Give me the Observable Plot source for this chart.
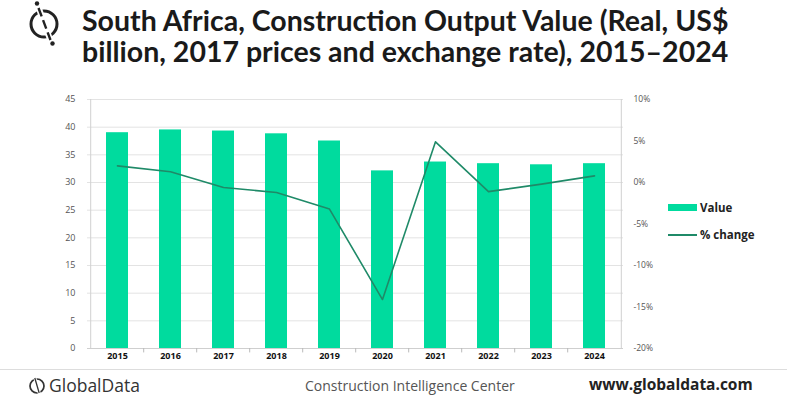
<!DOCTYPE html>
<html><head><meta charset="utf-8">
<script src="https://cdn.jsdelivr.net/npm/d3@7"></script>
<script src="https://cdn.jsdelivr.net/npm/@observablehq/plot@0.6"></script>
<style>
body{margin:0;background:#fff;width:787px;height:399px;overflow:hidden;position:relative;font-family:"Open Sans",Lato,sans-serif;}
#title{position:absolute;left:82px;top:5px;font-family:Lato,"Open Sans",sans-serif;font-weight:700;font-size:28.5px;line-height:31px;color:#1a1a1a;white-space:nowrap;}
#icon{position:absolute;left:26px;top:0px;}
#chart{position:absolute;left:0;top:80px;}
#legend{position:absolute;left:668px;top:194px;font-family:"Open Sans",sans-serif;font-weight:700;font-size:11.5px;color:#222;}
#legend div{display:flex;align-items:center;height:27px;}
#legend span.sw{display:inline-block;width:29px;margin-right:3px;}
#footer{position:absolute;left:0;top:369px;width:787px;border-top:1px solid #ddd;}
.f{position:absolute;white-space:nowrap;line-height:1;}
</style></head>
<body>
<svg id="icon" width="36" height="48" viewBox="0 0 36 48">
 <circle cx="18" cy="24" r="13" fill="none" stroke="#222" stroke-width="3"/>
 <line x1="12" y1="6" x2="25" y2="42" stroke="#fff" stroke-width="6"/>
 <line x1="12.5" y1="8" x2="24.5" y2="40" stroke="#222" stroke-width="2.4" stroke-dasharray="9 4"/>
 <circle cx="11" cy="3.5" r="2.2" fill="#222"/>
 <circle cx="26.5" cy="43.5" r="2.2" fill="#222"/>
</svg>
<div id="title">South Africa, Construction Output Value (Real, US$<br>billion, 2017 prices and exchange rate), 2015–2024</div>
<div id="chart"></div>
<div id="legend">
 <div><span class="sw" style="height:7px;background:#00db9e"></span>Value</div>
 <div><span class="sw" style="height:2px;background:#1f8a68"></span>% change</div>
</div>
<div id="footer"></div>
<div class="f" style="left:27px;top:375px;font-family:'Open Sans',sans-serif;font-size:17.5px;color:#333;">
 <svg width="22" height="20" viewBox="0 0 22 20" style="vertical-align:-3px"><circle cx="10" cy="11" r="7" fill="none" stroke="#333" stroke-width="1.7"/><line x1="7.5" y1="2" x2="12.5" y2="19" stroke="#fff" stroke-width="3"/><line x1="7.8" y1="3" x2="12.2" y2="18" stroke="#333" stroke-width="1.3"/></svg>GlobalData</div>
<div class="f" style="left:305px;top:379px;font-family:'Open Sans',sans-serif;font-size:14px;color:#555;">Construction Intelligence Center</div>
<div class="f" style="left:589px;top:377px;font-family:'Open Sans',sans-serif;font-weight:700;font-size:15.5px;color:#222;">www.globaldata.com</div>
<script>
const years = ["2015","2016","2017","2018","2019","2020","2021","2022","2023","2024"];
const values = [39.0, 39.5, 39.3, 38.8, 37.5, 32.1, 33.7, 33.4, 33.2, 33.4];
const pctChange = [2.0, 1.3, -0.6, -1.2, -3.2, -14.1, 4.9, -1.1, -0.2, 0.8];
const leftTicks = [0,5,10,15,20,25,30,35,40,45];
const rightTicks = [-20,-15,-10,-5,0,5,10];

// map % (-20..10) onto the left scale (0..45)
const toY = p => (p + 20) * 1.5;
const fromY = v => Math.round(v / 1.5 - 20);

const data = years.map((y,i)=>({year:y, value:values[i], pct:pctChange[i]}));
const W = 787, H = 285, mL = 87, mR = 164;
const bw = (W - mL - mR) / years.length;

const chart = Plot.plot({
  width: W, height: H,
  marginLeft: mL, marginRight: mR, marginTop: 19, marginBottom: 17,
  style: {fontFamily: "'Open Sans', sans-serif", background: "#fff", overflow: "visible"},
  x: {domain: years, padding: 0.59, paddingOuter: 0.295},
  y: {domain: [0, 45]},
  marks: [
    Plot.ruleY(leftTicks, {stroke: "#e3e3e3", strokeWidth: 1}),
    Plot.ruleX([0], {x: () => years[0], dx: -bw/2, y1: 0, y2: 45, stroke: "#d0d0d0"}),
    Plot.ruleX([0], {x: () => years[years.length-1], dx: bw/2, y1: 0, y2: 45, stroke: "#d0d0d0"}),
    Plot.barY(data, {x: "year", y: "value", fill: "#00db9e"}),
    Plot.ruleY([0], {stroke: "#cfcfcf"}),
    Plot.ruleX(years.slice(1), {x: d => d, dx: -bw/2, y1: 0, y2: -0.8, stroke: "#bbb"}),
    Plot.line(data, {x: "year", y: d => toY(d.pct), stroke: "#1f8a68", strokeWidth: 1.6}),
    Plot.axisX({tickSize: 0, tickPadding: 4, fontWeight: "bold", fontSize: 9, fill: "#111", label: null}),
    Plot.axisY({anchor: "left", ticks: leftTicks, tickSize: 0, tickPadding: 12, fontSize: 9, fill: "#555", label: null}),
    Plot.axisY({anchor: "right", ticks: rightTicks.map(toY), tickFormat: v => fromY(v) + "%", tickSize: 0, tickPadding: 10, fontSize: 8.5, fill: "#555", label: null})
  ]
});
document.getElementById("chart").appendChild(chart);
</script>
</body></html>
